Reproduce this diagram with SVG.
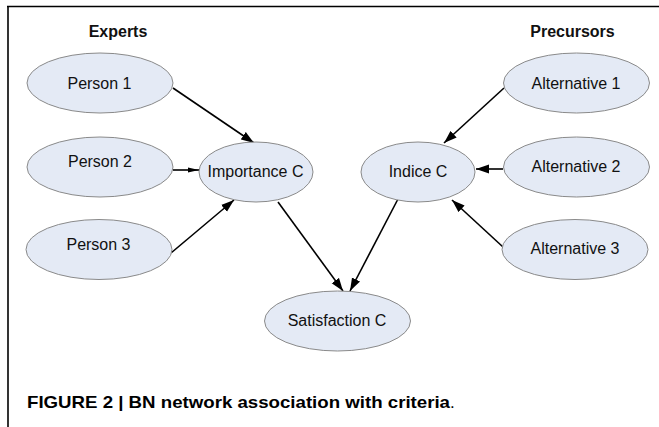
<svg xmlns="http://www.w3.org/2000/svg" width="659" height="427" viewBox="0 0 659 427">
<style>
.node ellipse{fill:#e4eaf5;stroke:#8a8a8a;stroke-width:1}
.node text{font-family:"Liberation Sans",Arial,sans-serif;font-size:16px;fill:#111;text-anchor:middle}
.hdr{font-family:"Liberation Sans",Arial,sans-serif;font-size:16px;font-weight:bold;fill:#111;text-anchor:middle}
.edge{stroke:#000;stroke-width:1.6;fill:none;marker-end:url(#ah)}
.cap{font-family:"Liberation Sans",Arial,sans-serif;font-size:17px;fill:#000}
</style>
<defs>
<marker id="ah" markerUnits="userSpaceOnUse" markerWidth="14" markerHeight="10" refX="13" refY="5" orient="auto">
<path d="M0,0.5 L13,5 L0,9.5 Z" fill="#000"/>
</marker>
<marker id="ahs" markerUnits="userSpaceOnUse" markerWidth="12" markerHeight="8" refX="11" refY="4" orient="auto">
<path d="M0,1.5 L11,4 L0,6.5 Z" fill="#000"/>
</marker>
</defs>
<rect width="659" height="427" fill="#fff"/>
<g id="frame" stroke="#000" stroke-width="1.6">
<line x1="7" y1="6.5" x2="659" y2="6.5"/>
<line x1="8" y1="6" x2="8" y2="427"/>
</g>
<text class="hdr" x="118" y="37">Experts</text>
<text class="hdr" x="572.5" y="37">Precursors</text>
<g id="edges">
<line class="edge" x1="173" y1="88" x2="254" y2="143"/>
<line class="edge" x1="173" y1="170" x2="199" y2="170" style="marker-end:url(#ahs)"/>
<line class="edge" x1="171" y1="253" x2="234" y2="200"/>
<line class="edge" x1="278" y1="202" x2="343" y2="291"/>
<line class="edge" x1="398" y1="199" x2="350" y2="291"/>
<line class="edge" x1="504" y1="88" x2="444" y2="143"/>
<line class="edge" x1="503" y1="169" x2="476" y2="169"/>
<line class="edge" x1="503" y1="247" x2="452" y2="200"/>
</g>
<g id="person1" class="node"><ellipse cx="100" cy="83" rx="73" ry="30"/><text x="99.5" y="89">Person 1</text></g>
<g id="person2" class="node"><ellipse cx="100" cy="167" rx="73" ry="30"/><text x="100" y="167">Person 2</text></g>
<g id="person3" class="node"><ellipse cx="99" cy="249.5" rx="73" ry="30"/><text x="98.5" y="249.5">Person 3</text></g>
<g id="importance" class="node"><ellipse cx="256" cy="172" rx="57" ry="30"/><text x="255.5" y="177">Importance C</text></g>
<g id="indice" class="node"><ellipse cx="418" cy="172" rx="57" ry="30"/><text x="418" y="177">Indice C</text></g>
<g id="alt1" class="node"><ellipse cx="576.5" cy="83" rx="73" ry="30"/><text x="576" y="88.5">Alternative 1</text></g>
<g id="alt2" class="node"><ellipse cx="576.5" cy="167" rx="73" ry="30"/><text x="576" y="172">Alternative 2</text></g>
<g id="alt3" class="node"><ellipse cx="575" cy="249.5" rx="73" ry="30"/><text x="575" y="254">Alternative 3</text></g>
<g id="satisfaction" class="node"><ellipse cx="337.5" cy="321" rx="73" ry="30"/><text x="337" y="326">Satisfaction C</text></g>
<text class="cap" x="27" y="407.5" font-weight="bold" textLength="423" lengthAdjust="spacingAndGlyphs">FIGURE 2 | BN network association with criteria</text>
<text class="cap" x="450" y="407.5">.</text>
</svg>
